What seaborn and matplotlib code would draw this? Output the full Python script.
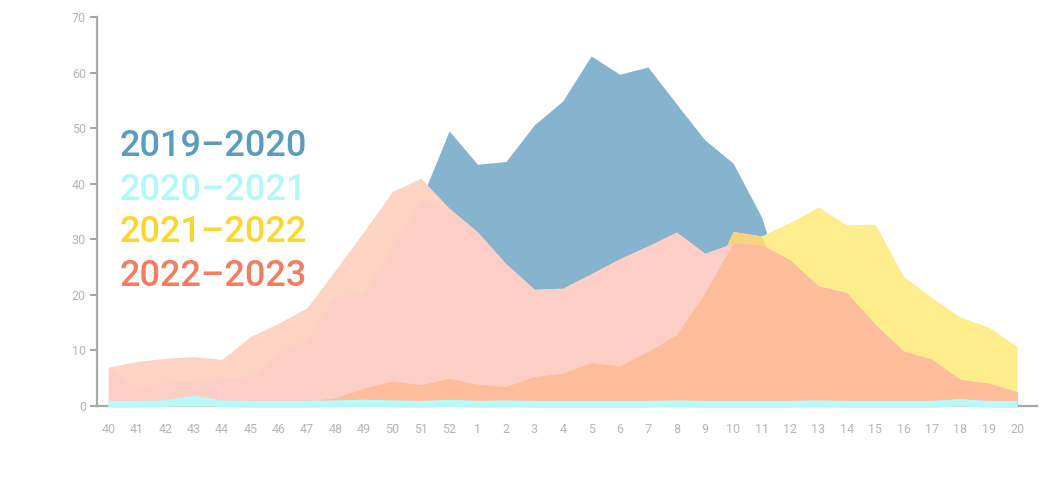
import numpy as np
import seaborn as sns
import matplotlib.pyplot as plt

# weeks of the season, week 40 to week 20
weeks = ['40', '41', '42', '43', '44', '45', '46', '47', '48', '49', '50', '51', '52',
         '1', '2', '3', '4', '5', '6', '7', '8', '9', '10', '11', '12', '13', '14',
         '15', '16', '17', '18', '19', '20']

s2019_2020 = [6.8, 3.2, 4.2, 4.4, 5.0, 5.3, 9.5, 12.0, 19.7, 20.3, 28.5, 37.0, 49.5,
              43.5, 44.0, 50.6, 54.9, 63.0, 59.7, 61.0, 54.4, 47.9, 43.7, 34.0, 18.0,
              12.0, 8.0, 6.0, 4.5, 3.5, 2.5, 2.0, 1.5]
s2020_2021 = [0.3, 0.3, 0.4, 1.2, 0.4, 0.3, 0.3, 0.3, 0.4, 0.5, 0.4, 0.3, 0.5,
              0.3, 0.4, 0.3, 0.3, 0.3, 0.3, 0.3, 0.4, 0.3, 0.3, 0.3, 0.3, 0.4,
              0.3, 0.3, 0.3, 0.3, 0.6, 0.3, 0.3]
s2021_2022 = [0.3, 0.3, 0.5, 1.0, 0.5, 0.4, 0.5, 0.8, 1.5, 3.2, 4.5, 3.8, 5.0,
              3.9, 3.5, 5.3, 5.9, 7.8, 7.2, 9.8, 12.8, 20.3, 31.4, 30.6, 33.0,
              35.8, 32.6, 32.7, 23.3, 19.5, 16.0, 14.2, 10.7]
s2022_2023 = [7.0, 8.0, 8.6, 8.9, 8.4, 12.5, 14.9, 17.7, 24.5, 31.4, 38.6, 41.0, 35.6,
              31.3, 25.6, 21.0, 21.2, 23.8, 26.5, 28.8, 31.3, 27.5, 29.3, 29.0, 26.3,
              21.6, 20.4, 14.7, 9.9, 8.4, 4.8, 4.1, 2.6]

seasons = ['2019–2020', '2020–2021', '2021–2022', '2022–2023']
text_colors = ['#5a9cc0', '#b3f8f8', '#fad72c', '#f47c60']

blue = '#86b4cf'
cyan = '#b8fafa'
yellow = '#feec8d'
amber = '#f9d37c'     # 2021-2022 lying over 2019-2020
peach = '#fdd3c4'
pink = '#fccec5'      # 2022-2023 lying over 2019-2020
orange = '#fdbc9a'    # 2022-2023 lying over 2021-2022
grey = '#a8a8a8'

sns.set_theme(style="white")
plt.rcParams['font.family'] = ['Roboto', 'DejaVu Sans']

x = np.arange(len(weeks))

fig, ax = plt.subplots(figsize=(10.64, 4.79), dpi=100)
fig.subplots_adjust(left=0.0912, right=0.9746, bottom=0.1524, top=0.9645)

# areas, back to front
ax.fill_between(x, 0, s2019_2020, color=blue, lw=0, zorder=1)
ax.fill_between(x, 0, s2021_2022, color=yellow, lw=0, zorder=2)
ax.fill_between(x, 0, np.minimum(s2019_2020, s2021_2022), color=amber, lw=0, zorder=2.2)
ax.fill_between(x, 0, s2022_2023, color=peach, lw=0, zorder=3)
# overlaps take a slightly different tint
ax.fill_between(x, 0, np.minimum(s2019_2020, s2022_2023), color=pink, lw=0, zorder=3.5)
ax.fill_between(x, 0, np.minimum(s2021_2022, s2022_2023), color=orange, lw=0, zorder=4)
ax.fill_between(x, 0, s2020_2021, color=cyan, lw=0, zorder=5)
sns.lineplot(x=x, y=s2020_2021, color=cyan, lw=5, ax=ax, zorder=6,
             clip_on=False, solid_capstyle='butt')

ax.set_xlim(-0.4, 32.7)
ax.set_ylim(0, 70)
ax.set_xticks(x)
ax.set_xticklabels(weeks)
ax.set_yticks(range(0, 71, 10))

sns.despine(ax=ax)
for side in ['left', 'bottom']:
    ax.spines[side].set_color(grey)
    ax.spines[side].set_linewidth(1.6)

ax.tick_params(axis='y', left=True, length=5, width=1.5, color=grey,
               labelcolor='#b5b5b5', labelsize=9, pad=3)
ax.tick_params(axis='x', bottom=False, labelcolor='#b5b5b5', labelsize=9, pad=6)

# season labels in place of a legend
ys = [0.666, 0.555, 0.445, 0.332]
for label, col, yy in zip(seasons, text_colors, ys):
    ax.text(0.0245, yy, label, transform=ax.transAxes, color=col,
            fontsize=26, fontweight='medium', va='center', ha='left', zorder=10)

plt.savefig('out.png', dpi=100)
